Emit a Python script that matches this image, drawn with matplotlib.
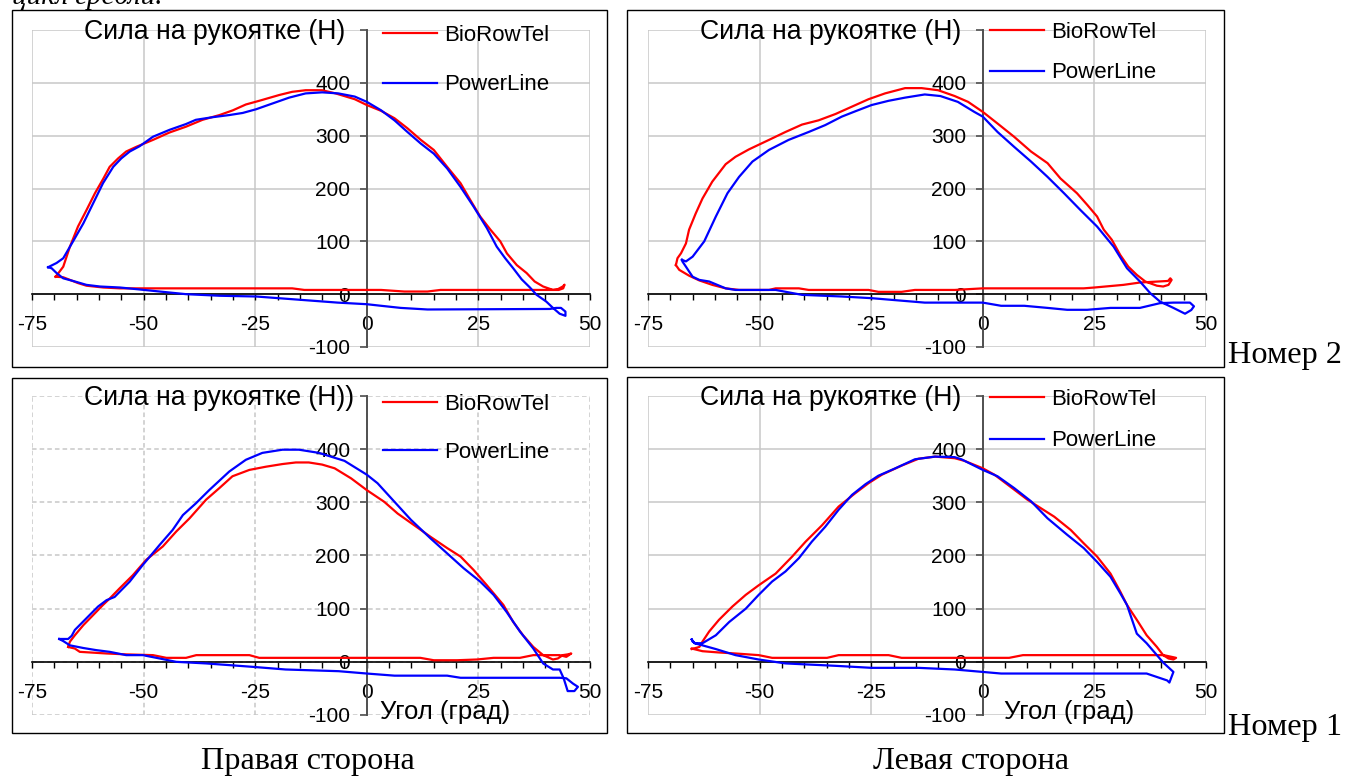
import matplotlib
matplotlib.use('Agg')
import matplotlib.pyplot as plt
from matplotlib.patches import Rectangle
import numpy as np

# ---------------- data (angle in degrees, handle force in N) ----------------
# Top-left panel (Номер 2, right side)
tl_bio_angle = [-69.7, -68, -66.5, -64.7, -62.8, -60.9, -59, -57.6, -55.7, -53.9, -51.6, -47.9, -44.2,
                -40.5, -36.8, -33, -30, -27.1, -24.1, -19.6, -16.7, -13.7, -10, -7, -2.7, 0, 3.2, 6.2,
                9.1, 12.1, 15, 18, 21, 23.2, 25.4, 27.7, 29.9, 31.4, 33.6, 35.8, 37.6, 39.5, 41.7, 42.8,
                43.9, 44.3, 44, 43, 41.7, 30, 16.5, 13.6, 8.4, 3.2, 0, -14, -16.7, -50, -55.3, -59,
                -62.8, -64.7, -66.5, -68, -69.7]
tl_bio_force = [33, 52, 90, 128, 159, 191, 219, 241, 257, 270, 279, 292, 306,
                317, 330, 339, 348, 359, 366, 377, 383, 386, 386, 380, 369, 358, 347, 333,
                314, 292, 273, 241, 210, 178, 147, 122, 100, 77, 55, 40, 24, 14.5, 8, 9.5,
                14.5, 18, 11, 8, 8, 8, 8, 5, 5, 8, 8, 8, 11, 11, 11, 12.6,
                16, 21, 27, 32, 33]
tl_pl_angle = [-71.4, -69.5, -68, -65.8, -63.5, -61.3, -59.1, -56.8, -55, -53.1, -50.9, -47.9, -44.2,
               -40.5, -38.3, -34.5, -30.8, -27.8, -24.8, -21.1, -17.4, -13.7, -10, -6.4, -2.7, 0, 3.2,
               6.2, 9.1, 12.1, 15, 18, 21, 23.9, 26.9, 29.1, 31, 32.8, 34.7, 36.5, 38, 40.2, 41.7, 43.2,
               44.5, 44.5, 43.5, 42.4, 41, 13.6, 7.6, 3.2, 0, -6.5, -24.8, -33, -40.5, -46.4, -51.6,
               -55.3, -59.8, -62.8, -65.8, -68, -69.5, -70.6, -71.4]
tl_pl_force = [51, 59, 68, 100, 134, 172, 210, 241, 257, 270, 280, 298, 311,
               322, 330, 335, 339, 343, 350, 361, 372, 380, 382, 380, 374, 364, 348,
               329, 307, 285, 266, 238, 203, 166, 125, 90, 68, 49, 28, 13, -1, -14, -26, -37,
               -41, -33, -26, -26, -28, -29, -26, -22, -19, -16, -4.4, -3, 0, 5, 9.5,
               12.6, 14.5, 17.6, 25, 30, 40, 49, 51]

# Top-right panel (Номер 2, left side)
tr_bio_angle = [-68.75, -68.4, -67.6, -66.5, -65.8, -64.3, -62.8, -60.6, -57.6, -55.4, -52.4, -47.9,
                -44.2, -40.5, -36.8, -33, -29.3, -25.6, -21.9, -17.4, -13.7, -10, -6.3, -3.3, 0, 3.3,
                7, 10.8, 14.5, 17.4, 21.1, 23.4, 25.6, 27.1, 28.9, 30.8, 32.6, 34.5, 36.4, 39, 40.4,
                41.6, 42.3, 42, 41.5, 35.2, 31.5, 25, 22.6, 0, -6.3, -15.2, -18.2, -23.4, -25.6, -39,
                -41.2, -46.4, -47.9, -54.6, -57.6, -60.6, -63.5, -65.8, -68, -68.75]
tr_bio_force = [55, 68, 77.5, 96, 122, 153, 181, 213, 246, 260, 274, 292,
                307, 321, 329, 341, 355, 369, 380, 390, 390, 386, 375, 364, 345, 323,
                298, 270, 248, 219, 191, 169, 147, 122, 103, 74, 52, 36.5, 24, 16, 14.5,
                17.6, 27, 30, 25, 22, 17.6, 12.6, 11, 11, 8, 8, 4.4, 4.4, 8, 8,
                11, 11, 8, 8, 11, 17.6, 26, 35, 46, 55]
tr_pl_angle = [-67.4, -66.5, -65, -62.4, -59.8, -57.2, -54.6, -51.6, -47.9, -43.5, -39, -35.3, -31.6,
               -28.6, -24.9, -21.1, -17.4, -13, -9.5, -5.6, -1.9, 0, 3.3, 7, 10.8, 14.5, 18.2, 21.9,
               25.6, 29.3, 32.3, 35.2, 37.5, 39.7, 42.7, 45.3, 46.7, 47.3, 46.4, 42.7, 39.7, 35.2,
               28.6, 23.4, 18.9, 14.5, 9.3, 4.1, 0, -13, -24.9, -31.6, -40.5, -46.4, -55.4, -57.6,
               -61.3, -63.5, -65, -65.8, -66.5, -67.3, -67.4]
tr_pl_force = [65, 62, 71, 100, 147, 191, 222, 251, 273, 292, 307, 320, 336,
               346, 358, 366, 372, 378, 375, 364, 345, 336, 307, 279, 251, 222, 191, 159,
               128, 90, 49, 24, 2, -14, -26, -37, -30, -23, -16, -16, -17, -26,
               -26, -29.6, -29.6, -26, -22, -22, -16, -16, -7.6, -4.4, -1.3, 8, 8, 11,
               24, 27, 33, 43, 52, 62, 65]

# Bottom-left panel (Номер 1, right side)
bl_bio_angle = [-66.9, -66.5, -65.4, -63.5, -60.6, -59.1, -57.6, -55.4, -52.4, -49.4, -45.7, -42.7,
                -39.7, -36, -33, -30.1, -26.3, -22.6, -18.9, -15.9, -13, -10, -7.2, -3.5, 0, 3.9, 6.9,
                10.6, 14.3, 18, 21, 23.9, 26.9, 30.6, 32.8, 35, 37.3, 39.5, 41.7, 42.8, 43.9, 45, 45.8,
                44.7, 43.2, 37.3, 34.3, 28.4, 24.7, 20.2, 15, 12, -24.1, -26.3, -38.2, -40.5, -44.9,
                -47.9, -53.9, -58.3, -64.3, -65.4, -66.9]
bl_bio_force = [28, 38, 50, 69, 94, 107, 119, 138, 163, 192, 217, 245,
                270, 305, 327, 349, 361, 367, 372, 375, 375, 371, 364, 345, 323, 301, 279,
                257, 235, 214, 198, 173, 144, 107, 75, 50, 28, 12.6, 4.4, 6.3, 12.6, 14, 15.7,
                9.4, 12.6, 12.6, 7.5, 7.5, 4.4, 3, 3, 7.5, 7.5, 12.6, 12.6, 7.5, 7.5,
                12.6, 14, 15.7, 18.8, 25, 28]
bl_pl_angle = [-68.9, -66.9, -66.1, -65.4, -62.8, -60.2, -58.3, -56.5, -53.1, -50.2, -46.4, -43.5,
               -41.2, -38.3, -35.3, -30.8, -27.1, -23.4, -18.9, -15.2, -10.7, -5, 0, 2.4, 6.2, 9.9,
               14.3, 18, 21.7, 25.4, 28.4, 31.3, 34.3, 37.3, 39.5, 41.7, 43.2, 44.1, 45, 46.5, 47.3,
               46.2, 44.7, 43.2, 21, 18, 6.2, 0, -6.3, -18.2, -25.6, -36, -42.7, -46.4, -50.2, -53.9,
               -57.6, -60.6, -63.5, -66.5, -68, -68.9]
bl_pl_force = [43, 43, 49, 60, 82, 104, 116, 122, 151, 182, 220, 248,
               276, 298, 323, 358, 380, 393, 399, 399, 393, 378, 352, 336, 301, 267,
               232, 204, 176, 151, 126, 94, 57, 25, -3, -14.4, -14.4, -31, -55, -55, -47,
               -41, -31, -30, -30, -26, -26, -22, -17.6, -14.4, -9.4, -3, 0, 6.3, 12.6, 12.6,
               18.8, 22, 26, 31, 39, 43]

# Bottom-right panel (Номер 1, left side)
br_bio_angle = [-65.2, -63.5, -62.8, -61.3, -59.1, -56.1, -53.1, -50.2, -46.4, -42.7, -39.7, -36,
                -32.3, -28.6, -25.6, -22.6, -18.2, -14.4, -10.7, -6.3, -4.1, 0, 2.6, 5.6, 10, 13, 16,
                19.7, 22.6, 25.6, 28.6, 30.8, 32.3, 34.5, 36.7, 39, 40.4, 41.6, 42.7, 43.3, 42.5, 40.5,
                9, 5.9, 0, -18.2, -21.1, -32.3, -34.9, -47.2, -50.2, -55.4, -59.1, -62.8, -65.2]
br_bio_force = [24, 28, 38, 57, 79, 104, 126, 144, 166, 198, 226, 257,
                292, 317, 336, 352, 369, 382, 386, 383, 378, 364, 352, 333, 305, 289, 273,
                248, 223, 198, 166, 132, 107, 79, 50, 28, 12.6, 6.3, 4.4, 7.5, 9, 12.6,
                12.6, 7.5, 7.5, 7.5, 12.6, 12.6, 7.5, 7.5, 12.6, 15.7, 17.6, 20, 25]
br_pl_angle = [-65.2, -65, -64.4, -62.8, -59.8, -56.8, -53.1, -50.2, -47.2, -44.2, -41.2, -38.3,
               -35.3, -32.3, -29.3, -26.3, -23.4, -19.6, -15.2, -10.7, -6.3, -4.8, 0, 3.3, 7, 10.8,
               14.5, 18.9, 22.6, 25.6, 28.6, 30.8, 32.3, 34.5, 36.7, 39, 40.4, 42.7, 41.8, 41.3, 36.7,
               4.1, 0, -6.3, -14.4, -24.9, -33, -44.2, -50.2, -55.4, -59.8, -62.8, -64.6, -65.2]
br_pl_force = [42, 38, 35, 35, 50, 75, 100, 126, 151, 170, 195, 226,
               254, 286, 314, 334, 350, 364, 381, 386, 385, 381, 361, 349, 327, 302,
               270, 239, 214, 188, 160, 129, 107, 53, 35, 12.6, -1.3, -19, -39, -35, -22,
               -22, -19, -14.4, -11.3, -11.3, -7.5, -3, 4.4, 12.6, 24, 31, 35, 42]

series_labels = ['BioRowTel', 'PowerLine']
x_ticks = [-75, -50, -25, 0, 25, 50]
x_tick_labels = ['-75', '-50', '-25', '0', '25', '50']
y_ticks = [-100, 0, 100, 200, 300, 400, 500]
y_tick_labels = ['-100', '0', '100', '200', '300', '400', '']
y_titles = ['Сила на рукоятке (Н)', 'Сила на рукоятке (Н)', 'Сила на рукоятке (Н))', 'Сила на рукоятке (Н)']
x_title = 'Угол (град)'

# ---------------- layout ----------------
W, H = 1349, 776
fig = plt.figure(figsize=(W / 100, H / 100), dpi=100)
SANS = 'Liberation Sans'
SERIF = 'Liberation Serif'

panels = [
    dict(data=(tl_bio_angle, tl_bio_force, tl_pl_angle, tl_pl_force), area=(32, 590, 30, 347),
         frame=(12, 607, 10, 367), dashed=False, leg=(383, 25), ls=1.28, xt=None, yt=y_titles[0], thick400=False),
    dict(data=(tr_bio_angle, tr_bio_force, tr_pl_angle, tr_pl_force), area=(648, 1206, 30, 347),
         frame=(627, 1224, 10, 367), dashed=False, leg=(990, 22), ls=0.87, xt=None, yt=y_titles[1], thick400=False),
    dict(data=(bl_bio_angle, bl_bio_force, bl_pl_angle, bl_pl_force), area=(32, 590, 396, 715),
         frame=(12, 607, 378, 733), dashed=True, leg=(383, 394), ls=1.22, xt=13, yt=y_titles[2], thick400=False),
    dict(data=(br_bio_angle, br_bio_force, br_pl_angle, br_pl_force), area=(648, 1206, 396, 715),
         frame=(627, 1224, 377, 733), dashed=False, leg=(990, 389), ls=0.92, xt=21, yt=y_titles[3], thick400=True),
]

for p in panels:
    x0, x1, yt, yb = p['area']
    ax = fig.add_axes([x0 / W, 1 - yb / H, (x1 - x0) / W, (yb - yt) / H])
    ax.set_facecolor('none')
    ax.set_xlim(-75, 50)
    ax.set_ylim(-100, 500)
    ax.set_xticks(x_ticks)
    ax.set_xticklabels(x_tick_labels)
    ax.set_xticks(np.arange(-75, 51, 5), minor=True)
    ax.set_yticks(y_ticks)
    ax.set_yticklabels(y_tick_labels)
    gls = (0, (3, 2)) if p['dashed'] else '-'
    ax.grid(True, which='major', color='#c8c8c8', lw=1.1, ls=gls, zorder=0)
    ax.set_axisbelow(True)
    if p['thick400']:
        ax.get_ygridlines()[5].set_linewidth(2.6)
    for s in ('top', 'right'):
        ax.spines[s].set_visible(False)
    ax.spines['left'].set_position(('data', 0))
    ax.spines['bottom'].set_position(('data', 0))
    ax.spines['left'].set_color('#505050')
    ax.spines['left'].set_linewidth(1.4)
    ax.spines['bottom'].set_color('black')
    ax.spines['bottom'].set_linewidth(1.2)
    ax.tick_params(axis='y', which='major', direction='out', length=5, width=1.2, color='#505050',
                   pad=7.0, labelsize=15)
    ax.tick_params(axis='x', which='both', direction='out', length=4.2, width=1.0, color='black',
                   pad=11.0, labelsize=15)
    for lab in ax.get_xticklabels() + ax.get_yticklabels():
        lab.set_fontfamily(SANS)

    ba, bf, pa, pf = p['data']
    l1, = ax.plot(ba, bf, color='#ff0000', lw=1.6, solid_joinstyle='round', zorder=3)
    l2, = ax.plot(pa, pf, color='#0000ff', lw=1.6, solid_joinstyle='round', zorder=4)

    lx, ly = p['leg']
    ax.legend([l1, l2], series_labels, loc='upper left', bbox_to_anchor=(lx / W, 1 - ly / H),
              bbox_transform=fig.transFigure, frameon=False, borderpad=0, borderaxespad=0,
              handlelength=2.45, handletextpad=0.3, labelspacing=p['ls'],
              prop={'family': SANS, 'size': 16})

    ax.annotate(p['yt'], xy=(-75, 500), xycoords='data', xytext=(52, -2), textcoords='offset pixels',
                ha='left', va='center', fontsize=19.2, family=SANS, annotation_clip=False, zorder=6)
    if p['xt'] is not None:
        ax.annotate(x_title, xy=(0, -100), xycoords='data', xytext=(p['xt'], 3), textcoords='offset pixels',
                    ha='left', va='center', fontsize=18.5, family=SANS, annotation_clip=False, zorder=6)

    fx0, fx1, fy0, fy1 = p['frame']
    fig.add_artist(Rectangle((fx0 / W, 1 - fy1 / H), (fx1 - fx0) / W, (fy1 - fy0) / H,
                             transform=fig.transFigure, fill=False, ec='black', lw=1.0))

fig.text(308 / W, 1 - 762 / H, 'Правая сторона', ha='center', va='center', family=SERIF, fontsize=23.2)
fig.text(971 / W, 1 - 762 / H, 'Левая сторона', ha='center', va='center', family=SERIF, fontsize=23.2)
fig.text(1228 / W, 1 - 356 / H, 'Номер 2', ha='left', va='center', family=SERIF, fontsize=23.2)
fig.text(1228 / W, 1 - 727 / H, 'Номер 1', ha='left', va='center', family=SERIF, fontsize=23.2)
fig.text(12 / W, 1 - 4 / H, 'цикл гребли.', ha='left', va='baseline', family=SERIF, style='italic', fontsize=21)

fig.savefig('out.png', dpi=100)
